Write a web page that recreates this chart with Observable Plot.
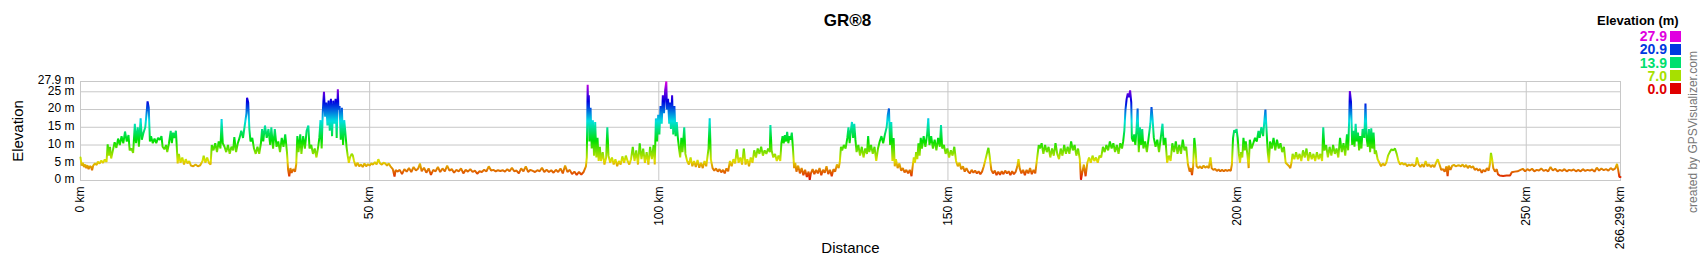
<!DOCTYPE html>
<html>
<head>
<meta charset="utf-8">
<script src="https://cdn.jsdelivr.net/npm/d3@7"></script>
<script src="https://cdn.jsdelivr.net/npm/@observablehq/plot@0.6"></script>
<style>
  html, body { margin: 0; padding: 0; background: #fff; }
  #wrap { position: relative; width: 1700px; height: 260px; font-family: "Liberation Sans", Arial, sans-serif; }
  #legend { position: absolute; left: 0; top: 0; width: 1700px; height: 100px; pointer-events: none; }
  .lg-title { position: absolute; left: 1597px; top: 13px; font-weight: bold; font-size: 13px; color: #000; white-space: nowrap; }
  .lg-val { position: absolute; width: 60px; left: 1607px; text-align: right; font-size: 14px; font-weight: bold; line-height: 14px; }
  .lg-sw { position: absolute; left: 1670px; width: 11px; height: 11px; }
</style>
</head>
<body>
<div id="wrap"><div id="legend"></div></div>
<script>
// ---- data (distance km, elevation m) ----
const profile = [
[0,6.5],[0.2,4.2],[0.4,5.0],[0.6,3.8],[0.8,4.5],[1.0,3.5],[1.2,4.3],[1.4,3.2],[1.6,4.0],[1.8,3.9],[2.0,2.9],[2.2,4.2],[2.5,4.8],[2.8,4.4],[3.0,5.3],[3.3,4.8],[3.6,5.6],[3.9,5.0],[4.2,5.9],[4.5,5.2],[4.7,10.2],[4.9,7.0],[5.1,9.5],[5.3,6.2],
[5.6,8.5],[5.9,10.8],[6.2,9.2],[6.5,11.8],[6.8,10.0],[7.1,12.5],[7.4,10.5],[7.7,13.8],[8.0,11.0],[8.3,12.8],[8.5,8.5],[8.8,9.0],[9.1,7.8],[9.4,16.0],[9.6,10.5],[9.9,15.0],[10.1,9.5],[10.4,17.5],[10.6,11.5],[10.9,13.5],[11.2,15.0],[11.4,18.5],[11.6,22.3],[11.8,20.5],[12.0,11.0],[12.2,12.5],[12.5,10.5],[12.8,11.8],[13.1,10.5],[13.4,12.0],[13.7,11.5],[14.0,12.5],[14.2,9.5],[14.5,8.8],[14.8,10.0],[15.0,8.0],[15.3,10.5],[15.6,14.0],[15.8,10.5],[16.0,13.5],[16.2,12.0],[16.5,14.0],[16.8,4.8],
[17.0,7.5],[17.3,5.0],[17.6,6.5],[17.9,4.5],[18.2,6.0],[18.5,4.8],[18.8,5.5],[19.1,4.2],[19.5,4.0],[19.9,4.5],[20.3,4.0],[20.7,4.3],[21.1,5.5],[21.3,7.0],[21.6,5.0],[21.9,6.5],[22.2,5.0],[22.5,4.5],[22.7,10.0],[23.0,8.5],[23.3,10.5],[23.6,8.0],[23.9,11.0],[24.2,9.0],[24.4,17.3],[24.6,10.5],[24.9,9.5],[25.2,8.0],[25.5,10.0],[25.8,7.5],[26.1,9.5],[26.4,8.5],[26.6,12.2],[26.9,8.0],[27.2,10.5],[27.5,12.0],[27.8,14.0],[28.1,12.0],[28.4,15.5],[28.7,19.0],[28.8,23.3],[29.0,22.0],[29.2,14.5],[29.4,11.0],[29.7,12.0],[30.0,9.0],[30.3,7.5],[30.6,9.5],[30.9,7.5],[31.2,10.5],[31.4,14.5],[31.6,11.0],[31.9,15.5],[32.2,12.0],[32.5,14.5],[32.8,10.0],[33.0,15.0],[33.3,9.0],[33.6,14.5],[33.9,9.5],[34.2,11.0],[34.5,8.0],[34.8,12.0],[35.1,9.5],[35.4,13.0],[35.7,8.0],
[35.9,3.0],[36.1,1.2],[36.3,3.5],[36.5,2.2],[36.8,3.2],[37.1,2.5],[37.3,4.5],[37.5,12.5],[37.7,8.0],[38.0,13.0],[38.2,7.5],[38.5,12.5],[38.8,9.0],[39.1,14.0],[39.4,15.5],[39.6,9.0],[39.9,10.0],[40.2,7.5],[40.5,9.0],[40.8,6.5],[41.1,9.5],[41.3,12.0],[41.5,17.0],[41.7,9.0],[41.9,19.5],[42.1,25.0],[42.3,18.0],[42.5,22.0],[42.7,15.5],[42.9,22.5],[43.1,14.0],[43.3,23.0],[43.5,12.5],[43.7,22.5],[43.9,16.0],[44.1,23.0],[44.3,12.0],[44.5,25.7],[44.6,20.0],
[44.8,21.0],[45.0,11.5],[45.2,20.5],[45.4,10.0],[45.6,17.0],[45.8,13.5],[46.0,9.5],[46.2,7.0],[46.4,5.0],[46.6,6.5],[46.9,7.5],[47.1,7.0],[47.3,5.5],[47.6,4.0],[47.9,5.0],[48.2,4.0],[48.5,4.5],[48.8,3.8],[49.1,4.8],[49.4,4.0],[49.7,4.6],[50.0,4.2],[50.3,4.8],[50.6,4.5],[50.9,5.2],[51.2,4.5],[51.5,6.0],[51.8,4.8],[52.1,4.5],[52.4,5.0],[52.7,4.8],[53.0,4.2],[53.3,4.8],[53.6,4.0],[54.0,3.2],[54.3,1.1],[54.5,3.0],[54.8,2.5],
[55.2,3.0],[55.6,1.8],[56.0,3.2],[56.4,2.5],[56.8,3.5],[57.2,2.4],[57.6,3.8],[58.0,2.8],[58.4,3.4],[58.7,4.8],[59.0,2.6],[59.4,3.6],[59.8,2.2],[60.2,3.4],[60.6,1.6],[61.0,3.0],[61.4,2.6],[61.8,3.8],[62.2,2.4],[62.6,3.4],[63.0,2.6],[63.4,4.2],[63.8,2.8],[64.2,3.2],[64.6,2.2],[65.0,3.0],[65.4,2.6],[65.8,3.4],[66.2,2.0],[66.6,3.0],[67.0,2.5],[67.4,3.2],[67.8,2.4],[68.2,2.8],[68.6,1.9],[69.0,2.6],[69.4,2.4],[69.8,3.0],[70.2,2.6],[70.6,4.0],[71.0,2.8],[71.4,3.0],[71.8,2.6],[72.2,2.9],[72.6,2.7],[73.0,2.9],[73.4,2.5],[73.8,3.2],[74.2,2.6],[74.6,3.6],[75.0,2.6],[75.4,2.8],[75.8,2.0],[76.2,3.4],[76.6,2.6],[77.0,4.0],[77.4,2.4],[77.8,3.0],[78.2,2.7],[78.6,2.4],[79.0,2.9],[79.4,2.6],[79.8,3.6],[80.2,2.4],[80.6,3.0],[81.0,2.4],[81.4,2.9],[81.8,2.2],[82.2,3.0],[82.6,2.4],[83.0,3.4],[83.4,2.0],[83.8,4.2],[84.2,2.4],[84.6,3.0],[85.0,1.8],[85.4,2.5],[85.8,1.6],[86.2,2.4],[86.6,1.7],[87.0,2.4],[87.4,4.0],[87.55,6.5],
[87.7,27.0],[87.8,18.0],[87.9,24.0],[88.0,11.0],[88.2,20.5],[88.4,9.0],[88.6,17.0],[88.8,7.0],[89.0,16.5],[89.2,6.5],[89.4,12.0],[89.6,5.5],[89.8,9.5],[90.0,5.5],[90.3,8.0],[90.6,4.5],[90.9,6.5],[91.1,15.0],[91.3,7.0],[91.6,5.0],[91.9,6.5],[92.2,4.5],[92.5,6.0],[92.8,4.0],[93.1,5.5],[93.4,4.5],[93.7,6.8],[94.0,5.0],[94.3,7.0],[94.6,5.5],[94.9,4.5],[95.2,6.0],[95.5,9.5],[95.8,5.5],[96.1,8.5],[96.4,4.5],[96.7,10.5],[97.0,6.0],[97.3,9.0],[97.6,5.0],[97.9,8.0],[98.2,4.5],[98.5,9.5],[98.8,6.0],[99.1,10.0],[99.3,4.5],
[99.5,17.5],[99.7,11.0],[99.9,18.5],[100.1,13.0],[100.3,21.0],[100.5,16.0],[100.7,24.0],[100.9,19.0],[101.1,25.5],[101.3,27.9],[101.4,20.0],[101.6,23.0],[101.8,16.0],[101.9,22.0],[102.1,14.5],[102.3,24.0],[102.5,13.0],[102.7,21.0],[102.9,12.5],[103.1,16.5],[103.3,12.0],[103.5,9.0],[103.7,6.5],[103.9,12.0],[104.1,8.0],[104.4,15.0],[104.6,7.5],[104.9,5.5],[105.2,4.5],[105.5,6.5],[105.8,4.0],[106.1,5.5],[106.4,3.8],[106.7,5.8],[107.0,3.6],[107.3,5.0],[107.6,3.5],[107.9,5.5],[108.2,4.0],[108.6,9.0],[108.8,17.5],[109.0,6.0],[109.3,3.5],[109.6,2.8],[109.9,3.4],[110.2,2.5],[110.5,3.2],[110.8,2.3],[111.1,3.0],[111.4,2.0],[111.7,3.4],[112.0,2.6],
[112.3,5.5],[112.6,4.0],[112.9,6.0],[113.2,4.8],[113.5,8.8],[113.8,5.0],[114.1,6.5],[114.4,4.5],[114.7,9.0],[115.0,4.5],[115.3,6.0],[115.6,4.0],[115.9,6.5],[116.2,5.0],[116.5,8.5],[116.8,6.5],[117.1,9.0],[117.4,7.5],[117.7,9.5],[118.0,7.0],[118.3,8.5],[118.6,7.5],[118.9,9.0],[119.2,8.0],[119.3,15.6],[119.5,8.5],[119.8,6.5],[120.1,7.5],[120.4,5.5],[120.7,7.0],[121.0,5.5],[121.2,10.5],[121.4,12.5],[121.6,10.5],[121.8,12.8],[122.0,11.0],[122.2,13.7],[122.4,10.5],[122.6,12.5],[122.8,11.5],[123.0,13.5],[123.2,9.0],
[123.4,3.5],[123.6,5.0],[123.8,2.5],[124.1,4.2],[124.4,2.0],[124.7,3.5],[125.0,1.5],[125.3,3.0],[125.6,1.0],[125.9,2.5],[126.1,0.2],[126.3,2.0],[126.6,3.2],[126.9,1.8],[127.2,3.0],[127.5,2.0],[127.8,3.5],[128.1,1.5],[128.4,3.0],[128.7,2.2],[129.0,4.0],[129.3,1.8],[129.6,3.0],[129.9,1.2],[130.2,3.2],[130.5,2.5],[130.8,4.5],[131.1,3.5],[131.3,5.2],
[131.5,9.5],[131.7,8.5],[132.0,10.0],[132.3,9.0],[132.6,12.0],[132.8,15.0],[133.0,10.5],[133.2,14.0],[133.4,16.5],[133.6,12.0],[133.8,16.0],[134.0,11.5],[134.2,8.0],[134.5,10.0],[134.8,7.0],[135.1,9.5],[135.4,6.5],[135.7,9.0],[136.0,7.5],[136.2,12.5],[136.4,8.0],[136.7,10.0],[137.0,7.5],[137.3,9.5],[137.6,5.5],[137.9,9.0],[138.2,11.0],[138.5,12.5],[138.8,10.5],[139.1,13.0],[139.4,15.0],[139.6,18.5],[139.8,20.3],[140.0,10.0],[140.2,16.5],[140.4,5.5],[140.6,12.0],[140.8,4.0],[141.0,6.0],[141.3,3.5],[141.6,4.8],[141.9,2.8],[142.2,3.5],[142.5,2.3],[142.8,3.0],[143.1,2.0],[143.4,3.0],[143.7,1.2],[143.9,4.0],
[144.1,6.5],[144.3,5.0],[144.5,8.0],[144.7,6.0],[144.9,10.5],[145.1,7.0],[145.3,12.0],[145.5,9.0],[145.8,12.5],[146.1,9.5],[146.4,13.0],[146.6,17.5],[146.8,10.0],[147.1,12.5],[147.4,9.0],[147.7,11.5],[148.0,8.5],[148.3,12.0],[148.6,9.5],[148.8,15.6],[149.0,9.0],[149.3,10.0],[149.6,7.5],[149.9,9.0],[150.2,6.5],[150.5,8.5],[150.8,7.0],[151.1,9.5],[151.4,5.5],[151.7,4.0],[152.0,5.0],[152.3,3.2],[152.6,4.0],[152.9,2.5],[153.2,3.5],[153.5,2.5],[153.8,2.0],[154.1,3.0],[154.4,2.2],[154.7,2.8],[155.0,2.0],[155.3,2.6],[155.6,1.8],[155.9,2.5],[156.2,4.0],[156.5,6.0],[156.8,8.0],[157.0,9.2],[157.2,7.0],[157.5,3.0],[157.8,2.0],[158.1,2.8],[158.4,1.5],[158.7,2.5],[159.0,1.6],[159.3,2.6],[159.6,1.8],[159.9,2.8],[160.2,2.0],[160.5,2.6],[160.8,1.5],[161.1,2.6],[161.4,1.8],[161.7,2.4],[162.0,4.0],[162.2,6.0],[162.4,3.5],[162.7,2.0],[163.0,3.0],[163.3,1.5],[163.6,3.0],[163.9,2.0],[164.2,3.5],[164.5,1.8],[164.8,3.0],[165.1,2.0],
[165.4,6.0],[165.7,10.0],[165.9,9.0],[166.2,10.5],[166.5,7.5],[166.8,10.0],[167.1,8.0],[167.4,9.5],[167.7,6.5],[168.0,9.0],[168.3,7.0],[168.6,10.5],[168.9,7.5],[169.2,6.0],[169.5,9.0],[169.8,7.0],[170.1,10.0],[170.4,7.5],[170.7,9.5],[171.0,7.5],[171.3,11.0],[171.6,8.5],[171.9,10.0],[172.2,7.0],[172.5,9.0],[172.8,6.0],[173.0,0.2],[173.2,2.0],[173.5,4.5],[173.8,1.2],[174.1,5.0],[174.4,6.5],[174.7,5.0],[175.0,7.0],[175.3,5.5],[175.6,6.5],[175.9,5.0],[176.2,7.0],[176.5,6.5],[176.8,9.5],[177.1,8.0],[177.4,10.0],[177.7,8.5],[178.0,11.0],
[178.3,9.0],[178.6,10.5],[178.9,8.0],[179.2,10.0],[179.5,7.5],[179.8,10.5],[180.1,9.0],[180.3,11.0],[180.5,14.0],[180.7,20.0],[180.9,23.0],[181.1,24.5],[181.3,23.5],[181.5,25.4],[181.7,22.0],[181.8,12.0],[182.0,11.0],[182.2,13.0],[182.4,10.0],[182.6,14.0],[182.8,20.3],[183.0,8.0],[183.2,15.0],[183.4,10.0],[183.6,14.5],[183.8,9.0],[184.1,11.0],[184.4,8.0],[184.7,12.0],[185.0,16.0],[185.2,20.7],[185.4,17.0],[185.6,12.0],[185.9,9.5],[186.2,11.5],[186.5,8.0],[186.8,12.0],[187.1,16.0],[187.3,10.0],[187.6,12.0],[187.9,5.0],[188.2,7.0],[188.5,5.5],[188.8,10.5],[189.1,8.0],[189.4,11.0],[189.7,7.5],[190.0,10.0],[190.3,7.5],[190.6,11.5],[190.9,8.5],[191.2,9.5],[191.5,4.5],[191.8,2.5],[192.0,3.5],[192.2,1.5],[192.4,4.0],[192.6,12.0],[192.8,9.0],[193.0,4.0],[193.3,3.5],[193.6,4.0],[193.9,3.4],[194.2,4.2],[194.5,3.6],[194.8,4.0],[195.1,3.5],[195.4,6.5],[195.6,3.5],[195.9,3.0],[196.2,3.3],[196.5,2.7],[196.8,3.1],[197.1,2.6],[197.4,3.0],[197.7,2.6],[198.0,3.0],[198.3,2.7],[198.6,3.0],[198.9,2.7],[199.1,4.5],
[199.3,12.0],[199.5,14.2],[199.7,13.5],[199.9,14.5],[200.1,12.0],[200.3,7.5],[200.5,5.0],[200.7,8.0],[200.9,6.5],[201.1,12.0],[201.3,8.5],[201.5,11.0],[201.8,7.0],[202.0,3.5],[202.2,11.5],[202.5,9.0],[202.8,10.5],[203.1,12.0],[203.4,11.0],[203.7,14.0],[203.9,12.0],[204.2,15.0],[204.5,12.5],[204.7,16.5],[204.9,20.0],[205.1,14.0],[205.3,8.0],[205.5,5.0],[205.7,11.0],[206.0,9.0],[206.3,12.0],[206.6,8.5],[206.9,11.5],[207.2,9.0],[207.5,10.5],[207.8,8.0],[208.1,9.5],[208.4,5.0],[208.7,4.5],[209.0,4.0],[209.2,3.5],[209.4,5.0],[209.6,7.5],[209.9,6.0],[210.2,8.0],[210.5,6.0],[210.8,7.5],[211.1,5.5],[211.4,8.5],[211.7,6.5],[212.0,9.0],[212.3,5.5],[212.6,8.0],[212.9,6.0],[213.2,7.5],[213.5,5.5],[213.8,8.0],[214.1,6.0],[214.4,7.5],[214.7,5.5],[214.9,15.0],[215.1,8.5],[215.4,10.0],[215.7,6.5],[216.0,9.5],[216.3,7.0],[216.6,10.0],[216.9,7.5],[217.2,9.0],[217.5,6.5],[217.8,12.0],[218.1,8.0],[218.4,10.5],[218.7,7.0],[219.0,13.0],[219.2,8.5],[219.4,18.0],[219.5,25.2],[219.7,22.0],[219.9,10.0],[220.1,14.0],[220.3,9.5],[220.5,16.0],[220.7,11.0],[220.9,13.5],[221.1,8.5],[221.3,12.5],[221.5,9.0],[221.7,14.5],[222.0,12.0],[222.2,21.7],[222.4,12.0],[222.6,9.5],[222.8,14.5],[223.0,8.0],[223.2,14.7],[223.4,9.0],[223.6,13.5],[223.8,7.5],[224.0,8.5],[224.3,6.0],[224.6,5.0],[224.9,4.0],[225.2,4.8],[225.5,4.2],[225.8,5.0],[226.1,7.0],[226.4,8.0],[226.7,8.8],[227.0,8.5],[227.3,9.0],[227.6,7.5],[227.9,5.5],
[228.2,4.5],[228.5,5.0],[228.8,4.5],[229.1,4.8],[229.4,4.0],[229.7,4.5],[230.0,4.2],[230.3,4.6],[230.6,4.0],[230.9,4.5],[231.1,6.5],[231.4,4.5],[231.7,3.8],[232.0,4.6],[232.3,3.8],[232.6,5.5],[232.9,4.0],[233.2,4.6],[233.5,3.8],[233.8,4.4],[234.1,3.8],[234.4,5.0],[234.7,6.0],[235.0,4.5],[235.3,3.0],[235.6,3.2],[235.9,2.5],[236.2,4.0],[236.4,1.2],[236.6,4.2],[236.9,3.0],[237.2,4.2],[237.5,4.4],[237.8,4.0],[238.1,4.2],[238.4,4.3],[238.7,4.0],[239.0,4.5],[239.3,3.8],[239.6,4.4],[239.9,3.5],[240.2,4.2],[240.5,3.6],[240.8,4.0],[241.1,3.0],[241.4,3.4],[241.7,2.8],[242.0,3.2],[242.3,2.2],[242.6,3.0],[242.9,2.5],[243.2,3.5],[243.5,2.8],[243.7,4.5],[243.9,7.8],[244.1,6.0],[244.3,3.5],[244.6,2.5],[244.9,3.2],[245.1,1.8],[245.4,1.4],[246.0,1.3],[246.6,1.4],[247.2,1.4],[247.5,2.3],[248.0,2.5],[248.5,2.6],[249.0,3.0],[249.4,3.3],[249.8,2.6],[250.2,3.2],[250.6,2.8],[251.0,3.3],[251.4,2.6],[251.8,3.0],[252.2,2.8],[252.6,3.4],[253.0,2.7],[253.4,3.0],[253.8,2.6],[254.2,3.8],[254.6,2.8],[255.0,3.3],[255.4,2.6],[255.8,3.0],[256.2,2.7],[256.6,3.2],[257.0,2.6],[257.4,3.0],[257.8,2.8],[258.2,3.1],[258.6,2.6],[259.0,3.0],[259.4,2.6],[259.8,3.2],[260.2,2.7],[260.6,3.0],[261.0,2.8],[261.4,3.1],[261.8,2.5],[262.2,3.6],[262.6,2.8],[263.0,3.4],[263.4,2.9],[263.8,3.2],[264.2,2.8],[264.6,3.5],[265.0,3.0],[265.4,3.4],[265.7,4.7],[265.9,3.0],[266.1,1.0],[266.299,1.0]
];

const totalKm = 266.299;
const maxElev = 27.9;
const yTicks = [0, 5, 10, 15, 20, 25, 27.9];
const yGrid = [5, 10, 15, 20, 25];
const xTicks = [0, 50, 100, 150, 200, 250, 266.299];
const xGrid = [50, 100, 150, 200, 250];
const legendValues = [27.9, 20.9, 13.9, 7.0, 0.0];
const titleText = "GR®8";
const creditText = "created by GPSVisualizer.com";

// hue ramp red -> yellow -> green -> cyan -> blue -> magenta
const elevColor = d3.scaleLinear()
  .domain([0, maxElev])
  .range(["#e00000", "#e000e0"])
  .interpolate(d3.interpolateHslLong);

const gradientDefs = (index, scales) => {
  const g = d3.create("svg:g");
  const lg = g.append("defs").append("linearGradient")
    .attr("id", "elevGrad")
    .attr("gradientUnits", "userSpaceOnUse")
    .attr("x1", 0).attr("x2", 0)
    .attr("y1", scales.y(0)).attr("y2", scales.y(maxElev));
  d3.range(0, 1.0001, 0.05).forEach(t =>
    lg.append("stop").attr("offset", t).attr("stop-color", elevColor(t * maxElev)));
  return g.node();
};

const chart = Plot.plot({
  width: 1700,
  height: 260,
  marginLeft: 80,
  marginRight: 80,
  marginTop: 81,
  marginBottom: 80,
  style: { fontFamily: "'Liberation Sans', Arial, sans-serif", fontSize: "12px", color: "#000", background: "#fff" },
  x: { domain: [0, totalKm] },
  y: { domain: [0, maxElev] },
  marks: [
    gradientDefs,
    Plot.gridY(yGrid, { stroke: "#c8c8c8", strokeOpacity: 1 }),
    Plot.gridX(xGrid, { stroke: "#c8c8c8", strokeOpacity: 1 }),
    Plot.frame({ stroke: "#c8c8c8" }),
    Plot.line(profile, { x: d => d[0], y: d => d[1], stroke: "url(#elevGrad)", strokeWidth: 2, strokeLinejoin: "miter" }),
    Plot.axisY(yTicks, { tickSize: 0, tickPadding: 6, tickFormat: d => `${d} m`, label: null, fontSize: 12, dy: -1 }),
    Plot.axisX(xTicks, { tickSize: 0, tickPadding: 6, tickRotate: -90, tickFormat: d => `${d} km`, label: null, fontSize: 12 }),
    Plot.text(["Elevation"], { frameAnchor: "left", textAnchor: "middle", dx: -62, rotate: -90, fontSize: 15 }),
    Plot.text(["Distance"], { frameAnchor: "bottom", dy: 72, fontSize: 15 }),
    Plot.text([titleText], { frameAnchor: "top", dx: -3, dy: -68, fontSize: 17, fontWeight: "bold" }),
    Plot.text([creditText], { frameAnchor: "right", textAnchor: "middle", dx: 73, dy: 1, rotate: -90, fontSize: 12, fill: "#777" })
  ]
});
document.getElementById("wrap").prepend(chart);

// legend
const legend = d3.select("#legend");
legend.append("div").attr("class", "lg-title").text("Elevation (m)");
legendValues.forEach((v, i) => {
  const cy = 36.3 + i * 13.1;
  legend.append("div").attr("class", "lg-val")
    .style("top", (cy - 7) + "px")
    .style("color", elevColor(v))
    .text(v.toFixed(1));
  legend.append("div").attr("class", "lg-sw")
    .style("top", (cy - 5.5) + "px")
    .style("background", elevColor(v));
});
</script>
</body>
</html>
